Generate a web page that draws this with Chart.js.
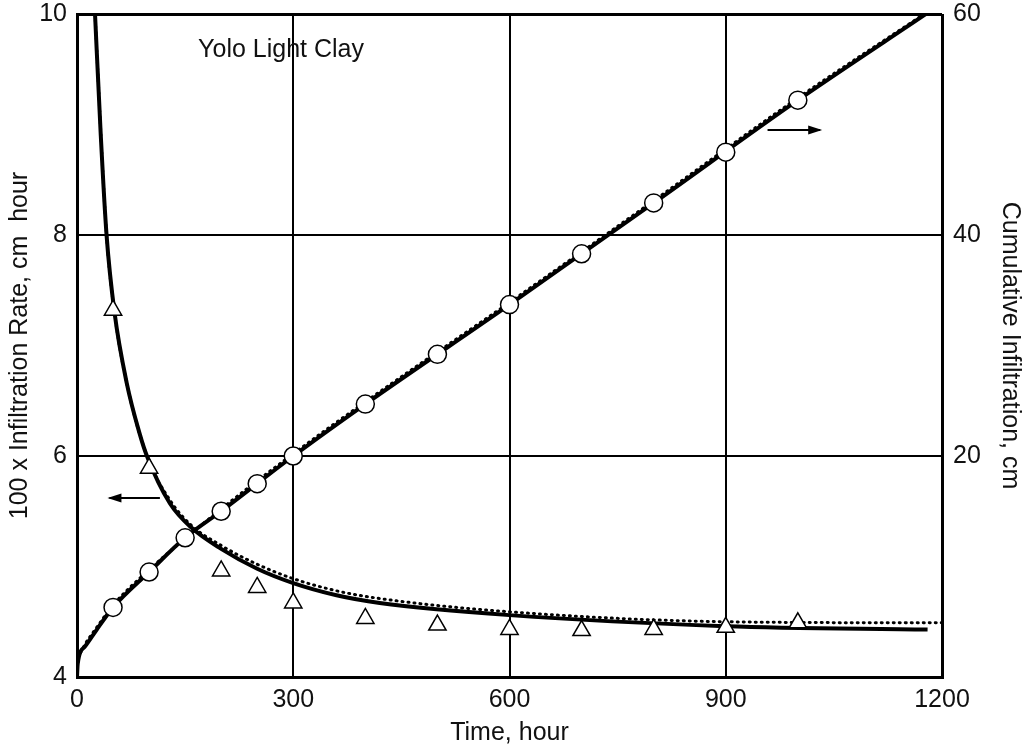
<!DOCTYPE html>
<html>
<head>
<meta charset="utf-8">
<script src="https://cdn.jsdelivr.net/npm/chart.js@4/dist/chart.umd.min.js"></script>
<style>
  html, body { margin: 0; padding: 0; background: #fff; }
</style>
</head>
<body>
<canvas id="myChart" width="1033" height="755"></canvas>
<script>
// observed points
let circTime = [50, 100, 150, 200, 250, 300, 400, 500, 600, 700, 800, 900, 1000];
let circCum = [6.3, 9.5, 12.6, 15.0, 17.5, 20.0, 24.7, 29.2, 33.7, 38.3, 42.9, 47.5, 52.2];
let triTime = [50, 100, 200, 250, 300, 400, 500, 600, 700, 800, 900, 1000];
let triRate = [7.32, 5.89, 4.96, 4.81, 4.67, 4.53, 4.47, 4.43, 4.42, 4.43, 4.45, 4.49];

// fitted curves
let rateLineT = [20, 25, 33, 41, 52, 69, 87, 97, 129, 159, 200, 250, 300, 360, 420, 600, 900, 1180];
let rateLineV = [10.7, 10, 8.9, 8, 7.3, 6.66, 6.2, 6.0, 5.57, 5.35, 5.16, 4.98, 4.85, 4.74, 4.67, 4.56, 4.46, 4.43];
let rateDotT = [20, 25, 41, 52, 69, 97, 129, 159, 200, 250, 300, 360, 420, 600, 900, 1200];
let rateDotV = [10.7, 10, 8, 7.3, 6.66, 6.0, 5.6, 5.37, 5.19, 5.02, 4.89, 4.78, 4.71, 4.59, 4.5, 4.49];
let cumLineT = [0, 1, 11, 27, 50, 100, 150, 200, 300, 400, 600, 800, 1000, 1180];
let cumLineV = [0, 1.2, 2.75, 4.25, 6.3, 9.5, 12.6, 15.0, 20.0, 24.7, 33.7, 42.9, 52.2, 60.1];
let cumDotT = [5, 11, 27, 50, 100, 200, 300, 400, 600, 800, 1000, 1180];
let cumDotV = [2.2, 2.95, 4.45, 6.5, 9.7, 15.2, 20.2, 24.9, 33.9, 43.1, 52.4, 60.2];

let xTicks = [0, 300, 600, 900, 1200];
let leftTicks = [4, 6, 8, 10];
let rightTicks = [20, 40, 60];

function pts(xs, ys) {
  return xs.map((x, i) => ({ x: x, y: ys[i] }));
}

const FONT = "'Liberation Sans', Arial, Helvetica, sans-serif";
const FSIZE = 25;

// arrows and the soil name
const extras = {
  id: 'extras',
  afterDatasetsDraw(chart) {
    const ctx = chart.ctx;
    const x = chart.scales.x, y = chart.scales.y, y2 = chart.scales.y2;
    function arrow(x1, x2, yy) {
      ctx.save();
      ctx.strokeStyle = '#000';
      ctx.fillStyle = '#000';
      ctx.lineWidth = 2;
      ctx.beginPath();
      ctx.moveTo(x1, yy);
      ctx.lineTo(x2, yy);
      ctx.stroke();
      const d = x2 > x1 ? 1 : -1;
      ctx.beginPath();
      ctx.moveTo(x2 + d * 2, yy);
      ctx.lineTo(x2 - d * 12, yy - 4.5);
      ctx.lineTo(x2 - d * 12, yy + 4.5);
      ctx.closePath();
      ctx.fill();
      ctx.restore();
    }
    arrow(x.getPixelForValue(115), x.getPixelForValue(45), y.getPixelForValue(5.62));
    arrow(x.getPixelForValue(958), x.getPixelForValue(1031), y2.getPixelForValue(49.5));

    ctx.save();
    ctx.fillStyle = '#111';
    ctx.font = FSIZE + 'px ' + FONT;
    ctx.textBaseline = 'middle';
    ctx.fillText('Yolo Light Clay', x.getPixelForValue(168), y.getPixelForValue(9.67));
    ctx.restore();
  }
};

// fixed box sizes so the plot area sits where the original has it
function fixV(w) {
  return s => { s.width = w; s.paddingTop = 0; s.paddingBottom = 0; };
}

let myChart = document.getElementById("myChart").getContext('2d');
let chart = new Chart(myChart, {
  type: 'scatter',
  data: {
    datasets: [
      {
        label: 'rate observed',
        data: pts(triTime, triRate),
        yAxisID: 'y',
        pointStyle: 'triangle',
        pointRadius: 10,
        backgroundColor: '#fff',
        borderColor: '#000',
        borderWidth: 1.5,
        order: 0
      },
      {
        label: 'cumulative observed',
        data: pts(circTime, circCum),
        yAxisID: 'y2',
        pointStyle: 'circle',
        pointRadius: 9,
        backgroundColor: '#fff',
        borderColor: '#000',
        borderWidth: 1.5,
        order: 0
      },
      {
        label: 'rate fit',
        data: pts(rateLineT, rateLineV),
        yAxisID: 'y',
        showLine: true,
        pointRadius: 0,
        borderColor: '#000',
        borderWidth: 4,
        cubicInterpolationMode: 'monotone',
        order: 2
      },
      {
        label: 'rate fit dotted',
        data: pts(rateDotT, rateDotV),
        yAxisID: 'y',
        showLine: true,
        pointRadius: 0,
        borderColor: '#000',
        borderWidth: 3,
        borderDash: [1, 5],
        borderCapStyle: 'round',
        cubicInterpolationMode: 'monotone',
        order: 3
      },
      {
        label: 'cumulative fit',
        data: pts(cumLineT, cumLineV),
        yAxisID: 'y2',
        showLine: true,
        pointRadius: 0,
        borderColor: '#000',
        borderWidth: 4,
        cubicInterpolationMode: 'monotone',
        order: 2
      },
      {
        label: 'cumulative fit dotted',
        data: pts(cumDotT, cumDotV),
        yAxisID: 'y2',
        showLine: true,
        pointRadius: 0,
        borderColor: '#000',
        borderWidth: 3,
        borderDash: [1, 5],
        borderCapStyle: 'round',
        cubicInterpolationMode: 'monotone',
        order: 3
      }
    ]
  },
  options: {
    responsive: false,
    animation: false,
    devicePixelRatio: 1,
    layout: { padding: { top: 14, left: 0, right: 0, bottom: 0 } },
    plugins: {
      legend: { display: false },
      tooltip: { enabled: false }
    },
    scales: {
      x: {
        type: 'linear',
        min: 0,
        max: 1200,
        afterBuildTicks: s => { s.ticks = xTicks.map(v => ({ value: v })); },
        afterFit: s => { s.height = 78; s.paddingLeft = 0; s.paddingRight = 0; },
        ticks: {
          color: '#111', font: { family: FONT, size: FSIZE }, padding: 8, maxRotation: 0,
          callback: v => String(v)
        },
        grid: {
          color: '#000',
          lineWidth: c => (c.tick.value === 0 || c.tick.value === 1200) ? 3 : 2,
          drawTicks: false
        },
        border: { color: '#000', width: 3 },
        title: { display: true, text: 'Time, hour', color: '#111', font: { family: FONT, size: FSIZE }, padding: { top: 0, bottom: 7 } }
      },
      y: {
        type: 'linear',
        position: 'left',
        min: 4,
        max: 10,
        afterBuildTicks: s => { s.ticks = leftTicks.map(v => ({ value: v })); },
        afterFit: fixV(77),
        ticks: { color: '#111', font: { family: FONT, size: FSIZE }, padding: 10, callback: v => String(v) },
        grid: {
          color: '#000',
          lineWidth: c => (c.tick.value === 4 || c.tick.value === 10) ? 3 : 2,
          drawTicks: false
        },
        border: { color: '#000', width: 3 },
        title: { display: true, text: '100 x Infiltration Rate, cm  hour', color: '#111', font: { family: FONT, size: FSIZE }, padding: { top: 5, bottom: 0 } }
      },
      y2: {
        type: 'linear',
        position: 'right',
        min: 0,
        max: 60,
        afterBuildTicks: s => { s.ticks = rightTicks.map(v => ({ value: v })); },
        afterFit: fixV(91),
        ticks: { color: '#111', font: { family: FONT, size: FSIZE }, padding: 11, callback: v => String(v) },
        grid: { display: false, drawTicks: false },
        border: { display: false },
        title: { display: true, text: 'Cumulative Infiltration, cm', color: '#111', font: { family: FONT, size: FSIZE }, padding: { top: 8, bottom: 0 } }
      }
    }
  },
  plugins: [extras]
});
</script>
</body>
</html>
